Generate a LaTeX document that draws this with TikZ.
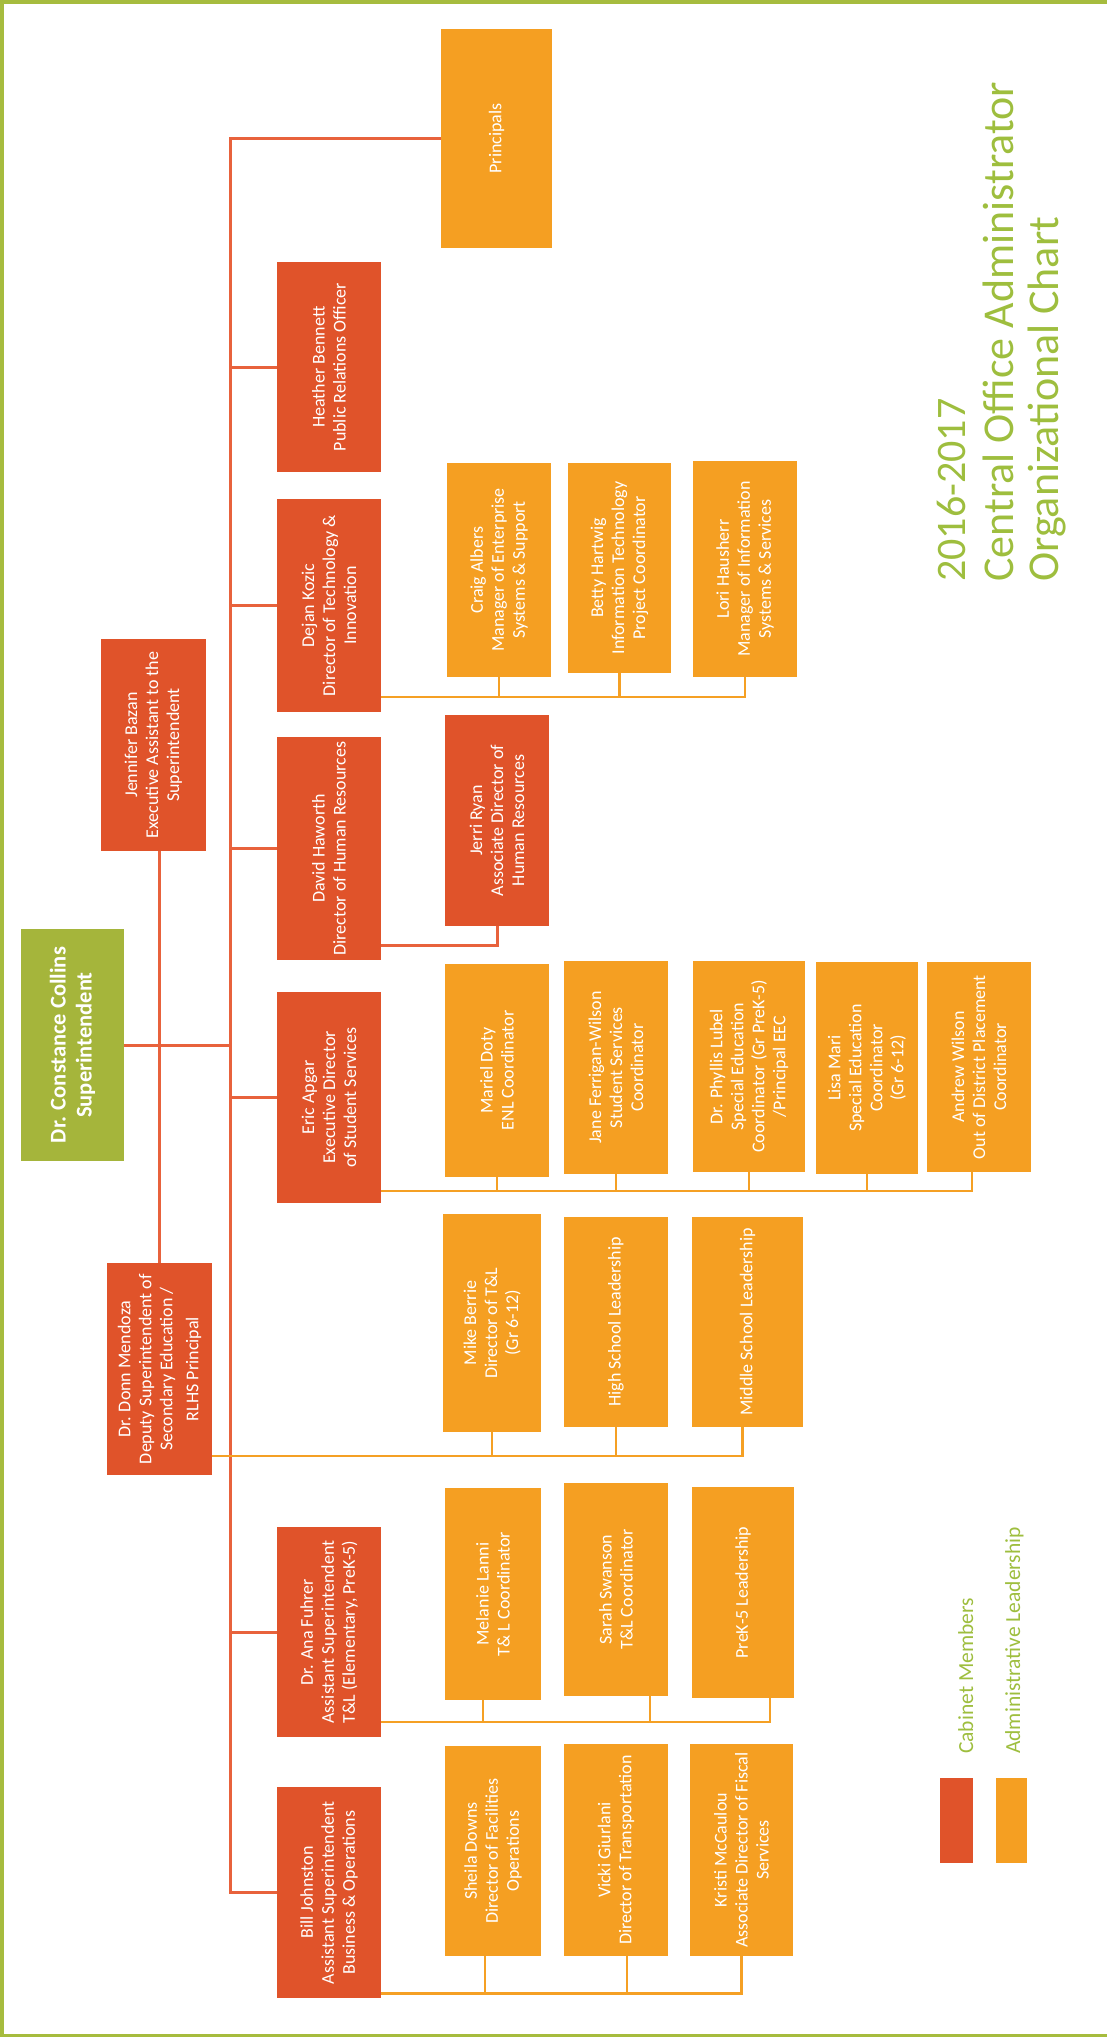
\documentclass[tikz,border=0pt]{standalone}
\usepackage{fontspec}
\setmainfont{Carlito}
\usetikzlibrary{calc}
\definecolor{cabred}{HTML}{E0532A}
\definecolor{admor}{HTML}{F59F22}
\definecolor{supgreen}{HTML}{A5B53B}
\definecolor{titlegreen}{HTML}{9EBE3E}
\definecolor{linered}{HTML}{E8623C}
\definecolor{lineor}{HTML}{F5A024}
\definecolor{framegreen}{HTML}{A6BC3E}
\tikzset{
  sz/.style 2 args={minimum height=#1, minimum width=#2},
  boxbase/.style={rotate=90, inner sep=2pt, align=center, text=white, font=\fontsize{18}{21}\selectfont},
  cab/.style={boxbase, fill=cabred},
  adm/.style={boxbase, fill=admor},
  supbox/.style={boxbase, fill=supgreen, font=\bfseries\fontsize{22.5}{26}\selectfont},
  rl/.style={draw=linered, line width=3pt},
  ol/.style={draw=lineor, line width=2.5pt},
  legtext/.style={rotate=90, anchor=base west, inner sep=0pt, text=titlegreen, font=\fontsize{21.5}{24}\selectfont},
  titletext/.style={rotate=90, anchor=base west, inner sep=0pt, text=titlegreen},
}
\begin{document}
\begin{tikzpicture}[x=1pt,y=-1pt]
\useasboundingbox (0,0) rectangle (1107,2037);
\fill[white] (0,0) rectangle (1107,2037);
% frame
\draw[framegreen, line width=4pt] (2,2037) -- (2,2) -- (1107,2);
\draw[framegreen, line width=2.5pt] (0,2035.5) -- (1107,2035.5);

% superintendent
\node[supbox, sz={103pt}{232pt}] (sup) at (72.5,1045) {Dr. Constance Collins\\Superintendent};

% cabinet members
\node[cab, sz={105pt}{212pt}] (jen) at (153.5,745) {Jennifer Bazan\\Executive Assistant to the\\Superintendent};
\node[cab, sz={105pt}{212pt}] (donn) at (159.5,1369) {Dr. Donn Mendoza\\Deputy Superintendent of\\Secondary Education /\\[5pt]RLHS Principal};
\node[cab, sz={104pt}{210pt}] (heather) at (329,367) {Heather Bennett\\Public Relations Officer};
\node[cab, sz={104pt}{213pt}] (dejan) at (329,605.5) {Dejan Kozic\\Director of Technology \&\\Innovation};
\node[cab, sz={104pt}{223pt}] (david) at (329,848.5) {David Haworth\\Director of Human Resources};
\node[cab, sz={104pt}{211pt}] (eric) at (329,1097.5) {Eric Apgar\\Executive Director\\of Student Services};
\node[cab, sz={104pt}{210pt}] (ana) at (329,1632) {Dr. Ana Fuhrer\\Assistant Superintendent\\T\&L (Elementary, PreK-5)};
\node[cab, sz={104pt}{211pt}] (bill) at (329,1892.5) {Bill Johnston\\Assistant Superintendent\\Business \& Operations};
\node[cab, sz={104pt}{211pt}] (jerri) at (497,820.5) {Jerri Ryan\\Associate Director of\\Human Resources};

% administrative leadership
\node[adm, sz={111pt}{219pt}] (principals) at (496.5,138.5) {Principals};
\node[adm, sz={104pt}{214pt}] (craig) at (499,570) {Craig Albers\\Manager of Enterprise\\Systems \& Support};
\node[adm, sz={103pt}{210pt}] (betty) at (619.5,568) {Betty Hartwig\\Information Technology\\Project Coordinator};
\node[adm, sz={104pt}{216pt}] (lori) at (745,569) {Lori Hausherr\\Manager of Information\\Systems \& Services};
\node[adm, sz={104pt}{213pt}] (mariel) at (497,1070.5) {Mariel Doty\\ENL Coordinator};
\node[adm, sz={104pt}{213pt}] (jane) at (616,1067.5) {Jane Ferrigan-Wilson\\Student Services\\Coordinator};
\node[adm, sz={112pt}{211pt}] (phyllis) at (749,1066.5) {Dr. Phyllis Lubel\\Special Education\\Coordinator (Gr PreK-5)\\/Principal EEC};
\node[adm, sz={102pt}{212pt}] (lisa) at (867,1068) {Lisa Mari\\Special Education\\Coordinator\\(Gr 6-12)};
\node[adm, sz={104pt}{210pt}] (andrew) at (979,1067) {Andrew Wilson\\Out of District Placement\\Coordinator};
\node[adm, sz={98pt}{218pt}] (mike) at (492,1323) {Mike Berrie\\Director of T\&L\\(Gr 6-12)};
\node[adm, sz={104pt}{210pt}] (hs) at (616,1322) {High School Leadership};
\node[adm, sz={111pt}{210pt}] (ms) at (747.5,1322) {Middle School Leadership};
\node[adm, sz={96pt}{212pt}] (melanie) at (493,1594) {Melanie Lanni\\T\& L Coordinator};
\node[adm, sz={104pt}{213pt}] (sarah) at (616,1589.5) {Sarah Swanson\\T\&L Coordinator};
\node[adm, sz={102pt}{211pt}] (prek) at (743,1592.5) {PreK-5 Leadership};
\node[adm, sz={96pt}{210pt}] (sheila) at (493,1851) {Sheila Downs\\Director of Facilities\\Operations};
\node[adm, sz={104pt}{212pt}] (vicki) at (616,1850) {Vicki Giurlani\\Director of Transportation};
\node[adm, sz={103pt}{212pt}] (kristi) at (741.5,1850) {Kristi McCaulou\\Associate Director of Fiscal\\Services};

% trunk and cabinet connectors
\coordinate (tk) at (230,135);
\draw[rl] (principals.north) -- (principals.north -| tk) -- (bill.north -| tk) -- (bill.north);
\foreach \n in {heather,dejan,david,eric,ana} {
  \draw[rl] (\n.north -| tk) -- (\n.north);
}
\draw[rl] (sup.south) -- (sup.south -| tk);
\draw[rl] (jen.west -| donn.east) -- (donn.east);

% David -> Jerri
\coordinate (hbus) at ($(david.south west)+(0,-15)$);
\draw[rl] (hbus) -| (jerri.west);

% Dejan bus
\coordinate (dbus) at ($(dejan.south west)+(0,-15)$);
\draw[ol] (dbus) -| (lori.west);
\draw[ol] (craig.west) -- (craig.west |- dbus);
\draw[ol] (betty.west) -- (betty.west |- dbus);

% Eric bus
\coordinate (ebus) at ($(eric.south west)+(0,-12)$);
\coordinate (andS) at ($(andrew.west)+(-7,0)$);
\draw[ol] (ebus) -| (andS);
\foreach \n in {mariel,jane,phyllis,lisa} {
  \draw[ol] (\n.west) -- (\n.west |- ebus);
}

% Donn bus
\coordinate (nbus) at ($(donn.south west)+(0,-19)$);
\coordinate (msS) at ($(ms.west)+(-5,0)$);
\draw[ol] (nbus) -| (msS);
\draw[ol] (mike.west) -- (mike.west |- nbus);
\draw[ol] (hs.west) -- (hs.west |- nbus);

% Ana bus
\coordinate (abus) at ($(ana.south west)+(0,-15)$);
\coordinate (prekS) at ($(prek.west)+(27,0)$);
\coordinate (melS) at ($(melanie.west)+(-10,0)$);
\coordinate (sarS) at ($(sarah.west)+(34,0)$);
\draw[ol] (abus) -| (prekS);
\draw[ol] (melS) -- (melS |- abus);
\draw[ol] (sarS) -- (sarS |- abus);

% Bill bus
\coordinate (bbus) at ($(bill.south west)+(0,-5)$);
\coordinate (sheS) at ($(sheila.west)+(-8,0)$);
\coordinate (vicS) at ($(vicki.west)+(11,0)$);
\draw[ol, line width=3pt] (bbus) -| (kristi.west);
\draw[ol] (sheS) -- (sheS |- bbus);
\draw[ol] (vicS) -- (vicS |- bbus);

% title
\node[titletext, font=\fontsize{42}{46}\selectfont] (t1) at (965,582) {2016-2017};
\node[titletext, font=\fontsize{44}{48}\selectfont] (t2) at (1013,582) {Central Office Administrator};
\node[titletext, font=\fontsize{44}{48}\selectfont] (t3) at (1058,582) {Organizational Chart};

% legend
\node[fill=cabred, minimum width=33pt, minimum height=85pt, inner sep=0pt] (legred) at (956.5,1820.5) {};
\node[fill=admor, minimum width=31pt, minimum height=85pt, inner sep=0pt] (legor) at (1011.5,1820.5) {};
\node[legtext] (legredt) at (973,1754) {Cabinet Members};
\node[legtext] (legort) at (1020,1754) {Administrative Leadership};
\end{tikzpicture}
\end{document}
